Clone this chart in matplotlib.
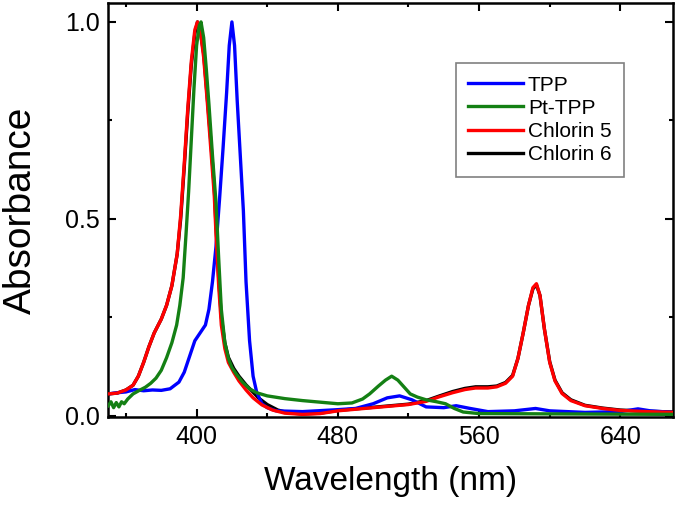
'''Absorption spectra of TPP, Pt-TPP and the two chlorins'''

import matplotlib
matplotlib.use('Agg')
import matplotlib.pyplot as plt
from matplotlib.ticker import MultipleLocator

plt.rcParams['font.family'] = ['Liberation Sans', 'DejaVu Sans']

# TPP
wl_tpp = [350, 355, 360, 365, 370, 375, 380, 385, 390, 393, 396, 399, 402, 405, 407, 409,
          411, 413, 415, 417, 418.5, 420, 421.5, 423, 425, 426.5, 428, 430, 432, 434, 437,
          440, 445, 460, 480, 490, 500, 508, 515, 522, 530, 540, 547, 555, 565, 580, 592,
          600, 620, 640, 650, 657, 670]
abs_tpp = [0.055, 0.058, 0.060, 0.066, 0.063, 0.065, 0.064, 0.068, 0.085, 0.11, 0.15, 0.19,
           0.21, 0.23, 0.27, 0.34, 0.43, 0.55, 0.68, 0.82, 0.94, 1.0, 0.94, 0.80, 0.64, 0.52,
           0.34, 0.19, 0.10, 0.06, 0.03, 0.02, 0.012, 0.010, 0.015, 0.018, 0.030, 0.045,
           0.050, 0.040, 0.022, 0.020, 0.025, 0.018, 0.010, 0.012, 0.018, 0.012, 0.008,
           0.010, 0.017, 0.012, 0.008]

# Pt-TPP
wl_pt = [350, 351.5, 353, 354.5, 356, 357.5, 359, 361, 364, 368, 371, 374, 377, 380, 383,
         386, 388.7, 390.5, 392.4, 394, 395.5, 397, 398.5, 400, 401.5, 402.5, 404, 405.5,
         407, 409, 411, 412.5, 414, 416, 418, 420, 422.5, 426, 430, 434, 440, 450, 460, 470,
         480, 488, 494, 498, 503, 507, 510.5, 514, 518, 521, 525, 530, 536, 541, 546, 551,
         560, 670]
abs_pt = [0.025, 0.035, 0.020, 0.033, 0.022, 0.035, 0.030, 0.042, 0.055, 0.065, 0.072,
          0.082, 0.095, 0.115, 0.147, 0.185, 0.23, 0.28, 0.35, 0.46, 0.57, 0.70, 0.83, 0.94,
          0.99, 1.0, 0.96, 0.88, 0.79, 0.66, 0.54, 0.40, 0.27, 0.185, 0.145, 0.122, 0.105,
          0.085, 0.068, 0.058, 0.050, 0.043, 0.038, 0.034, 0.030, 0.032, 0.042, 0.055, 0.075,
          0.090, 0.100, 0.090, 0.070, 0.055, 0.047, 0.040, 0.035, 0.030, 0.018, 0.009, 0.005,
          0.003]

# Chlorin 5
wl_c5 = [350, 355, 360, 364, 367, 370, 373, 376, 380, 383, 386, 389, 391, 393, 395, 397,
         399, 400.5, 402, 404, 406, 408, 410, 411, 412.5, 414, 416, 418, 421, 424, 428, 432,
         437, 443, 450, 460, 470, 480, 490, 500, 510, 520, 530, 537, 545, 552, 558, 565, 570,
         575, 579, 582, 585, 588, 590.5, 592.5, 594.5, 597, 600, 603, 607, 612, 620, 630,
         640, 655, 670]
abs_c5 = [0.055, 0.057, 0.065, 0.077, 0.10, 0.135, 0.175, 0.21, 0.245, 0.28, 0.33, 0.41,
          0.51, 0.64, 0.78, 0.90, 0.98, 1.0, 0.98, 0.91, 0.80, 0.68, 0.56, 0.46, 0.33, 0.23,
          0.17, 0.135, 0.11, 0.088, 0.065, 0.045, 0.027, 0.014, 0.006, 0.003, 0.005, 0.012,
          0.016, 0.020, 0.024, 0.028, 0.036, 0.047, 0.058, 0.066, 0.070, 0.070, 0.073,
          0.082, 0.10, 0.145, 0.21, 0.28, 0.325, 0.335, 0.305, 0.22, 0.135, 0.088, 0.056,
          0.038, 0.025, 0.018, 0.013, 0.010, 0.008]

# Chlorin 6
wl_c6 = [350, 355, 360, 364, 367, 370, 373, 376, 380, 383, 386, 389, 391, 393, 395, 397,
         399, 400.5, 402, 404, 406, 408, 410, 411, 412.5, 414, 416, 418, 421, 424, 428, 431,
         435, 440, 446, 452, 460, 470, 480, 490, 500, 510, 520, 530, 537, 545, 552, 558, 565,
         570, 575, 579, 582, 585, 588, 590.5, 592.5, 594.5, 597, 600, 603, 607, 612, 620,
         630, 640, 655, 670]
abs_c6 = [0.055, 0.057, 0.065, 0.077, 0.10, 0.135, 0.175, 0.21, 0.245, 0.28, 0.33, 0.41,
          0.50, 0.63, 0.77, 0.89, 0.97, 1.0, 0.98, 0.92, 0.81, 0.70, 0.58, 0.48, 0.35, 0.25,
          0.185, 0.148, 0.12, 0.10, 0.078, 0.064, 0.045, 0.028, 0.014, 0.007, 0.004, 0.006,
          0.013, 0.017, 0.021, 0.025, 0.029, 0.038, 0.049, 0.061, 0.069, 0.073, 0.073, 0.075,
          0.084, 0.102, 0.145, 0.21, 0.28, 0.322, 0.332, 0.305, 0.22, 0.137, 0.09, 0.058,
          0.04, 0.026, 0.019, 0.014, 0.011, 0.009]

lw = 2.4

fig = plt.figure(figsize=(6.77, 5.05), dpi=100)
ax = fig.add_axes([0.16, 0.174, 0.8345, 0.82])

ax.plot(wl_tpp, abs_tpp, color=[0, 0, 1], linewidth=lw, label='TPP', zorder=2)
ax.plot(wl_pt, abs_pt, color=[0.08, 0.5, 0.08], linewidth=lw, label='Pt-TPP', zorder=4)
ax.plot(wl_c5, abs_c5, color=[1, 0, 0], linewidth=lw, label='Chlorin 5', zorder=3)
ax.plot(wl_c6, abs_c6, color=[0, 0, 0], linewidth=lw, label='Chlorin 6', zorder=1)

# Customize graph
fs = 18

ax.set_xlim(350, 670)
ax.set_ylim(-0.004, 1.048)
ax.xaxis.set_major_locator(MultipleLocator(80))
ax.xaxis.set_minor_locator(MultipleLocator(40))
ax.yaxis.set_major_locator(MultipleLocator(0.5))
ax.yaxis.set_minor_locator(MultipleLocator(0.25))
ax.tick_params(which='both', direction='in', top=True, right=True, width=1.5, labelsize=fs, pad=6)
ax.tick_params(which='major', length=5.5)
ax.tick_params(which='minor', length=3)
ax.yaxis.set_major_formatter(plt.FormatStrFormatter('%.1f'))
for s in ax.spines.values():
    s.set_linewidth(1.8)

ax.set_xlabel('Wavelength (nm)', fontsize=24)
ax.set_ylabel('Absorbance', fontsize=28)
ax.xaxis.set_label_coords(0.5, -0.118)
ax.yaxis.set_label_coords(-0.122, 0.5)

leg = ax.legend(loc='upper right', bbox_to_anchor=(0.9127, 0.855), borderaxespad=0,
                fontsize=15, fancybox=False, edgecolor='gray', framealpha=1,
                handlelength=2.6, handletextpad=0.25, labelspacing=0.2, borderpad=0.6)
leg.get_frame().set_linewidth(1.2)

plt.savefig('out.png', dpi=100)
